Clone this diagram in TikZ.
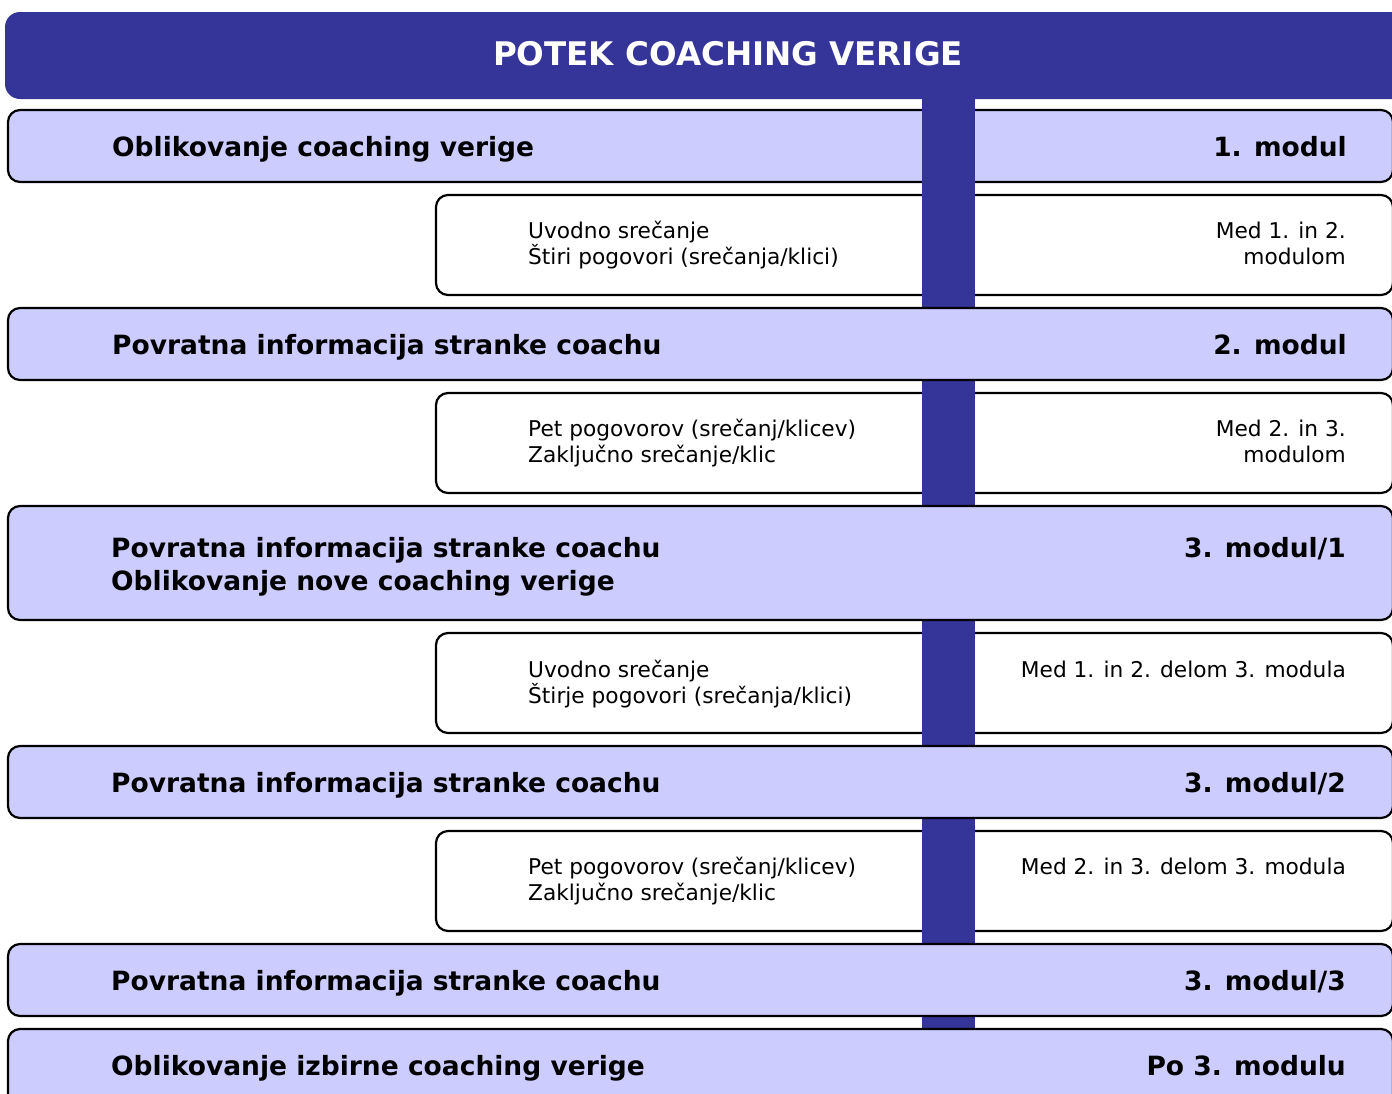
\documentclass[tikz,border=0pt]{standalone}
\usepackage{fontspec}
\setmainfont{DejaVu Sans}
\definecolor{hdrblue}{RGB}{53,53,153}
\definecolor{bandfill}{RGB}{204,204,255}
\begin{document}
\begin{tikzpicture}[x=1pt,y=-1pt,
  band/.style={draw=black, line width=2.2pt, fill=bandfill, rounded corners=12pt},
  wbox/.style={draw=black, line width=2.2pt, fill=white, rounded corners=12pt},
  titletext/.style={font=\fontsize{32.5}{36}\selectfont\bfseries, text=white, inner sep=0pt},
  bandtext/.style={font=\fontsize{26.5}{32}\selectfont\bfseries, text=black, inner sep=0pt},
  smalltext/.style={font=\fontsize{21.7}{26}\selectfont, text=black, inner sep=0pt}]
\useasboundingbox (0,0) rectangle (1392,1093);
\clip (0,0) rectangle (1392,1093);
% header
\fill[hdrblue, rounded corners=15pt] (5,12) rectangle (1420,99);
% first band and white boxes (under the bar)
\path[band] (8,110) rectangle (1393,182);
\path[wbox] (436,195) rectangle (1393,295);
\path[wbox] (436,393) rectangle (1393,493);
\path[wbox] (436,633) rectangle (1393,733);
\path[wbox] (436,831) rectangle (1393,931);
% vertical bar
\fill[hdrblue] (922,99) rectangle (975,1029);
% other bands (over the bar)
\path[band] (8,308) rectangle (1393,380);
\path[band] (8,506) rectangle (1393,620);
\path[band] (8,746) rectangle (1393,818);
\path[band] (8,944) rectangle (1393,1016);
\path[band] (8,1029) rectangle (1393,1120);
% texts
\node[titletext, anchor=base] (title) at (728,65) {POTEK COACHING VERIGE};

\node[bandtext, anchor=base west] (b1l) at (112,156) {Oblikovanje coaching verige};
\node[bandtext, anchor=base east] (b1r) at (1347,156) {1. modul};

\node[smalltext, anchor=base west] (w1a) at (528,238) {Uvodno srečanje};
\node[smalltext, anchor=base west] (w1b) at (528,264) {Štiri pogovori (srečanja/klici)};
\node[smalltext, anchor=base east] (w1c) at (1346,238) {Med 1. in 2.};
\node[smalltext, anchor=base east] (w1d) at (1346,264) {modulom};

\node[bandtext, anchor=base west] (b2l) at (112,354) {Povratna informacija stranke coachu};
\node[bandtext, anchor=base east] (b2r) at (1347,354) {2. modul};

\node[smalltext, anchor=base west] (w2a) at (528,436) {Pet pogovorov (srečanj/klicev)};
\node[smalltext, anchor=base west] (w2b) at (528,462) {Zaključno srečanje/klic};
\node[smalltext, anchor=base east] (w2c) at (1346,436) {Med 2. in 3.};
\node[smalltext, anchor=base east] (w2d) at (1346,462) {modulom};

\node[bandtext, anchor=base west] (b3l) at (111,557) {Povratna informacija stranke coachu};
\node[bandtext, anchor=base west] (b3m) at (111,590) {Oblikovanje nove coaching verige};
\node[bandtext, anchor=base east] (b3r) at (1346,557) {3. modul/1};

\node[smalltext, anchor=base west] (w3a) at (528,677) {Uvodno srečanje};
\node[smalltext, anchor=base west] (w3b) at (528,703) {Štirje pogovori (srečanja/klici)};
\node[smalltext, anchor=base east] (w3c) at (1346,677) {Med 1. in 2. delom 3. modula};

\node[bandtext, anchor=base west] (b4l) at (111,792) {Povratna informacija stranke coachu};
\node[bandtext, anchor=base east] (b4r) at (1346,792) {3. modul/2};

\node[smalltext, anchor=base west] (w4a) at (528,874) {Pet pogovorov (srečanj/klicev)};
\node[smalltext, anchor=base west] (w4b) at (528,900) {Zaključno srečanje/klic};
\node[smalltext, anchor=base east] (w4c) at (1346,874) {Med 2. in 3. delom 3. modula};

\node[bandtext, anchor=base west] (b5l) at (111,990) {Povratna informacija stranke coachu};
\node[bandtext, anchor=base east] (b5r) at (1346,990) {3. modul/3};

\node[bandtext, anchor=base west] (b6l) at (111,1075) {Oblikovanje izbirne coaching verige};
\node[bandtext, anchor=base east] (b6r) at (1346,1075) {Po 3. modulu};
\end{tikzpicture}
\end{document}
